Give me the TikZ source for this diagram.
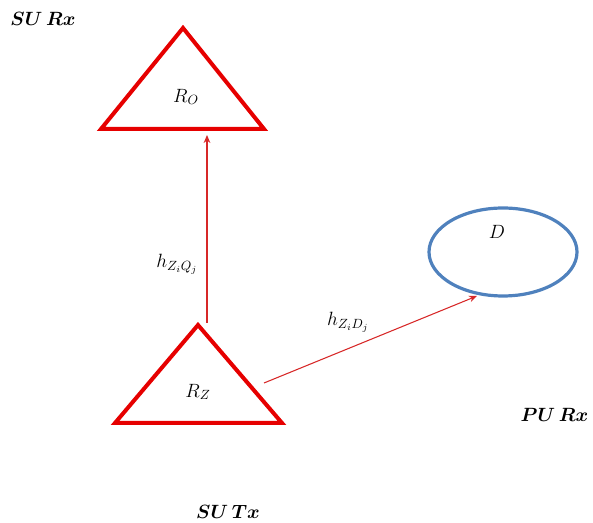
\documentclass[tikz,border=0pt]{standalone}
\usetikzlibrary{arrows.meta,shapes.geometric}
\definecolor{tri}{RGB}{230,0,0}
\definecolor{lnk}{RGB}{215,40,40}
\definecolor{ell}{RGB}{79,129,189}
\begin{document}
\begin{tikzpicture}[x=0.75pt,y=-0.75pt,
  trishape/.style={draw=tri,line width=3pt,line join=miter},
  link/.style={draw=lnk,line width=0.8pt,-{Stealth[length=6pt,width=5pt]}},
  lbl/.style={font=\fontsize{14}{16}\selectfont\boldmath, inner sep=1pt},
  mlbl/.style={font=\fontsize{14}{16}\selectfont, inner sep=1pt}]
\useasboundingbox (0,0) rectangle (593,523);
% top triangle R_O
\coordinate (oA) at (183,28);
\coordinate (oL) at (101,129);
\coordinate (oR) at (264,129);
\draw[trishape] (oA) -- (oL) -- (oR) -- cycle;
\node[mlbl] (RO) at (186,97) {$R_O$};
% bottom triangle R_Z
\coordinate (zA) at (198,325);
\coordinate (zL) at (115,423);
\coordinate (zR) at (282,423);
\draw[trishape] (zA) -- (zL) -- (zR) -- cycle;
\node[mlbl] (RZ) at (198,392) {$R_Z$};
% ellipse D
\node[draw=ell,line width=2.4pt,ellipse,minimum width=148*0.75pt,minimum height=88*0.75pt,inner sep=0pt] (Dell) at (503,252) {};
\node[mlbl] (D) at (497,232) {$D$};
% connectors
\coordinate (s1) at (207,323);
\coordinate (t1) at (207,135);
\coordinate (s2) at (264,383);
\coordinate (t2) at (477,296);
\draw[link] (s1) -- (t1);
\draw[link] (s2) -- (t2);
% labels
\node[mlbl] (hq) at (177,264) {$h_{Z_iQ_j}$};
\node[mlbl] (hd) at (348,322) {$h_{Z_iD_j}$};
\node[lbl] (surx) at (43,19) {$SU\,Rx$};
\node[lbl,anchor=east] (purx) at (590,415) {$PU\,Rx$};
\node[lbl] (sutx) at (228,512) {$SU\,Tx$};
\end{tikzpicture}
\end{document}
